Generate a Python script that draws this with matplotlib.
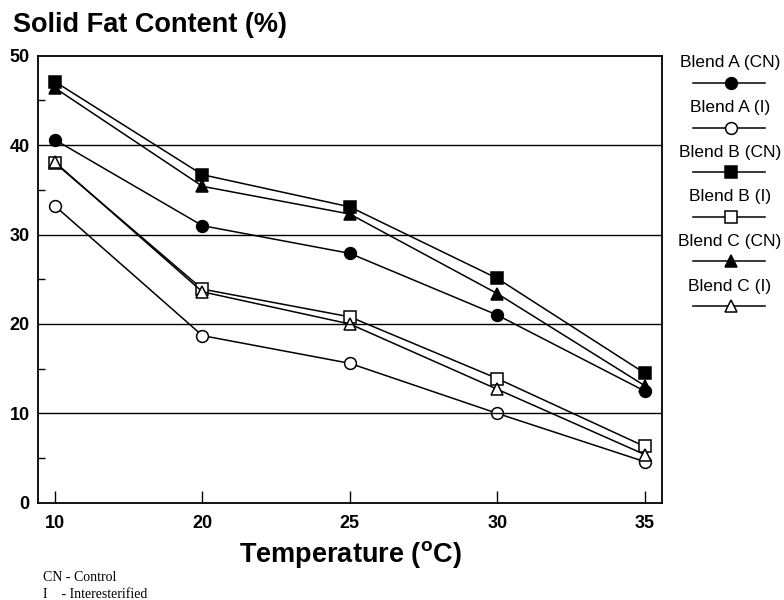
import numpy as np
import matplotlib
matplotlib.use('Agg')
from matplotlib import pyplot as plt
from matplotlib.lines import Line2D

plt.rcParams['font.family'] = ['Liberation Sans', 'DejaVu Sans']
plt.rcParams['mathtext.fontset'] = 'custom'
plt.rcParams['mathtext.rm'] = 'Liberation Sans:bold'

temps = ['10', '20', '25', '30', '35']
blend_a_cn = [40.6, 31.0, 27.9, 21.0, 12.5]
blend_a_i = [33.2, 18.7, 15.6, 10.0, 4.6]
blend_b_cn = [47.1, 36.7, 33.1, 25.1, 14.5]
blend_b_i = [38.0, 23.9, 20.8, 13.9, 6.3]
blend_c_cn = [46.4, 35.4, 32.3, 23.4, 13.1]
blend_c_i = [38.1, 23.6, 20.0, 12.7, 5.4]

series = [
    ('Blend A (CN)', blend_a_cn, 'o', 'black'),
    ('Blend A (I)', blend_a_i, 'o', 'white'),
    ('Blend B (CN)', blend_b_cn, 's', 'black'),
    ('Blend B (I)', blend_b_i, 's', 'white'),
    ('Blend C (CN)', blend_c_cn, '^', 'black'),
    ('Blend C (I)', blend_c_i, '^', 'white'),
]

fig = plt.figure(figsize=(7.84, 6), dpi=100)
ax = fig.add_axes([0.0485, 0.162, 0.7955, 0.745])

x = np.arange(len(temps))
for name, vals, m, fc in series:
    ax.plot(x, vals, color='black', lw=1.1, marker=m, markersize=8.5,
            markerfacecolor=fc, markeredgecolor='black', markeredgewidth=1.1)

ax.set_xlim(-0.115, 4.115)
ax.set_ylim(0, 50)
ax.set_xticks(x)
ax.set_xticklabels(temps, fontsize=13, fontweight='bold')
ax.set_yticks([0, 10, 20, 30, 40, 50])
ax.set_yticklabels(['0', '10', '20', '30', '40', '50'], fontsize=13, fontweight='bold')
ax.set_yticks(np.arange(5, 50, 10), minor=True)
ax.tick_params(axis='y', which='major', length=0, pad=6)
ax.tick_params(axis='y', which='minor', direction='in', length=5, width=1)
ax.tick_params(axis='x', direction='in', length=9, width=1, pad=9)
for v in [10, 20, 30, 40]:
    ax.axhline(v, color='black', lw=1.0)
for s in ax.spines.values():
    s.set_linewidth(1.3)

ax.set_xlabel(r'Temperature ($^\mathrm{o}$C)', fontsize=19.5, fontweight='bold', labelpad=5)
fig.text(0.017, 0.958, 'Solid Fat Content (%)', fontsize=19.5, fontweight='bold', va='center')

fig.text(0.055, 0.037, 'CN - Control', fontsize=10, family='Liberation Serif', va='center')
fig.text(0.055, 0.009, 'I    - Interesterified', fontsize=10, family='Liberation Serif', va='center')

# legend on the right: label above a short line with marker
for i, (name, vals, m, fc) in enumerate(series):
    yt = 1 - (63 + i * 44.6) / 600
    yl = 1 - (83 + i * 44.6) / 600
    fig.text(730 / 784, yt, name, fontsize=12.5, ha='center', va='center')
    fig.add_artist(Line2D([693 / 784, 765 / 784], [yl, yl], color='black', lw=1.1,
                          transform=fig.transFigure))
    fig.add_artist(Line2D([731 / 784], [yl], marker=m, markersize=8.5, markerfacecolor=fc,
                          markeredgecolor='black', markeredgewidth=1.1, color='black',
                          transform=fig.transFigure))

plt.savefig('out.png')
